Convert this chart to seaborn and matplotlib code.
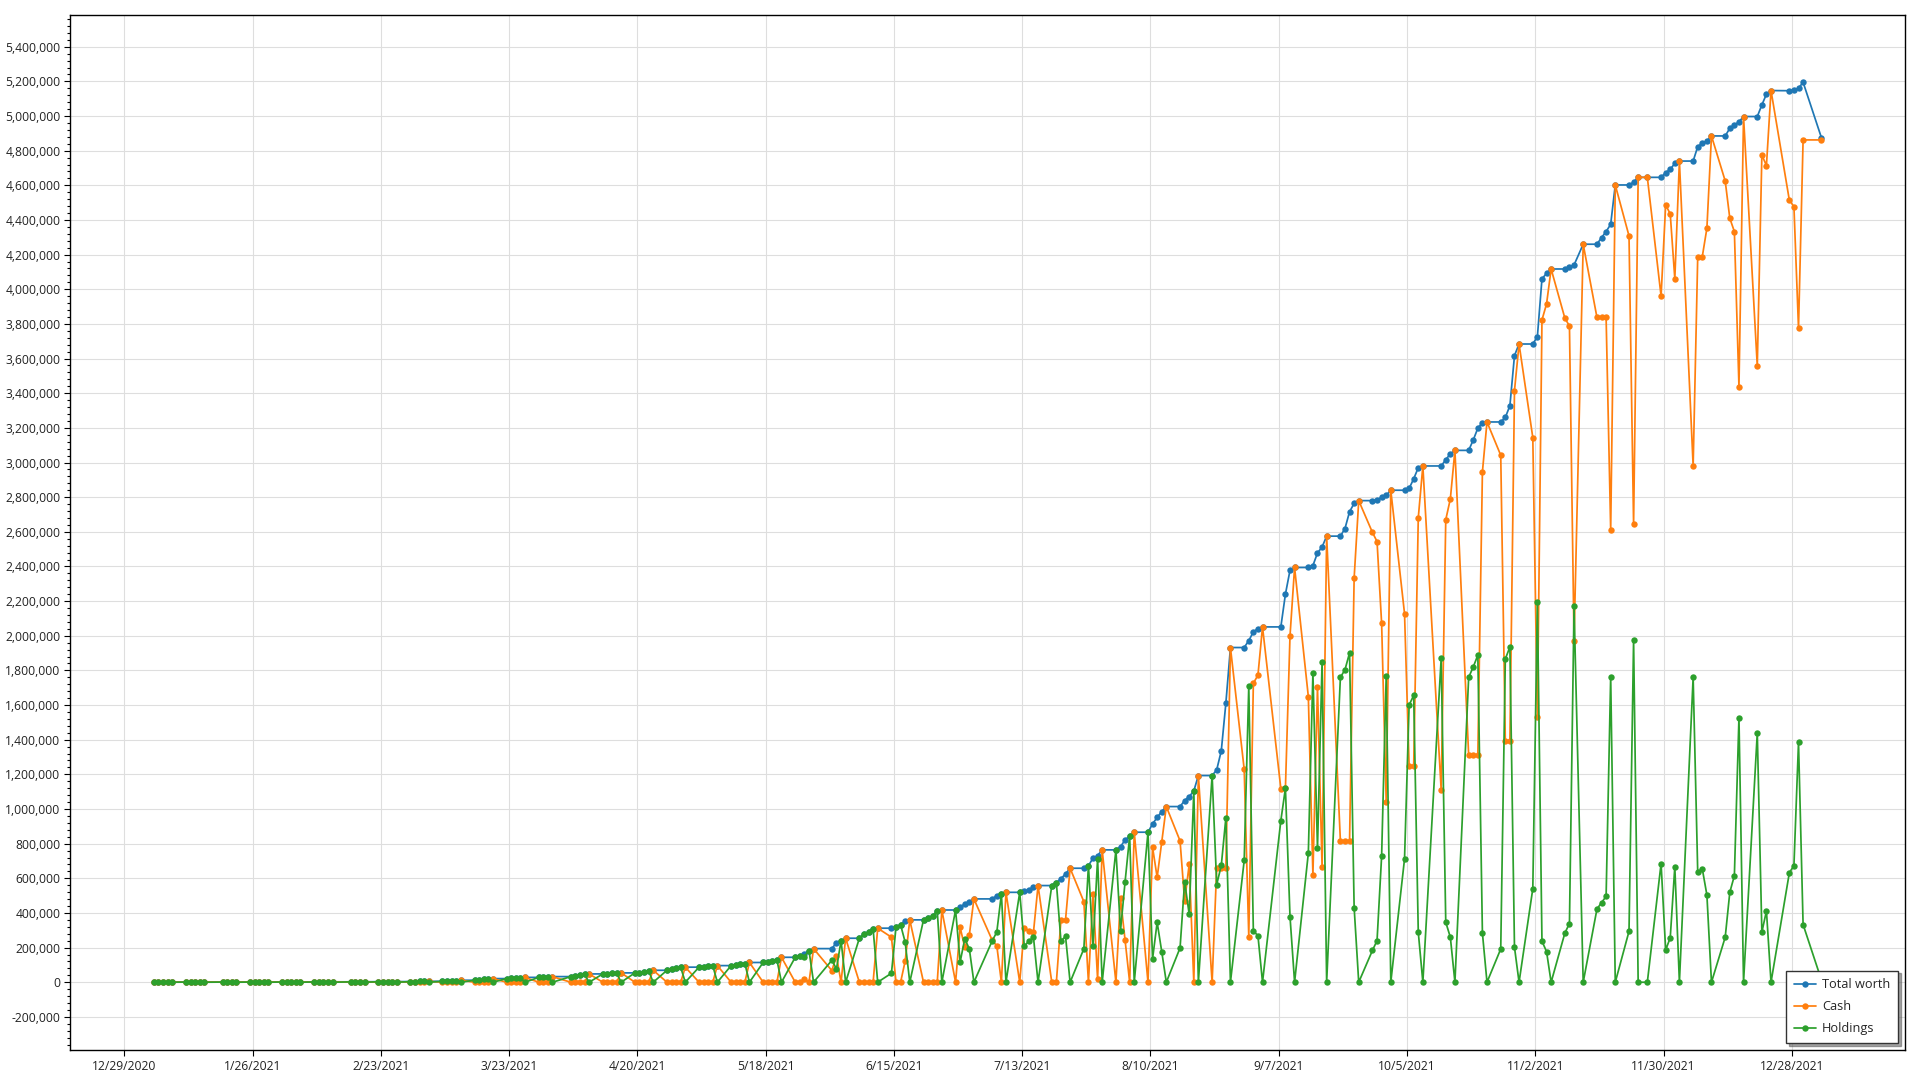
import matplotlib
matplotlib.use("Agg")
import matplotlib.pyplot as plt
from matplotlib.ticker import FuncFormatter, MultipleLocator
import pandas as pd
import seaborn as sns

# days without a data point inside the range (holidays / gaps in the feed)
MISSING_DAYS = ["2021-01-18", "2021-02-15", "2021-04-02", "2021-05-31", "2021-07-05",
                "2021-09-06", "2021-10-11", "2021-11-11", "2021-11-25", "2021-12-24",
                "2021-12-31"]
FIRST_DAY = "2021-01-04"
LAST_DAY = "2022-01-03"
SNAPSHOT_HOUR = 11  # values are logged late in the morning

# values in thousands, one row per trading week
total_worth_k = [
    1.00, 1.02, 1.05, 1.08, 1.10,
    1.10, 1.13, 1.16, 1.20, 1.24,
    1.24, 1.29, 1.34, 1.40,
    1.40, 1.46, 1.52, 1.59, 1.66,
    1.66, 1.74, 1.82, 1.90, 2.00,
    2.00, 2.10, 2.20, 2.30, 2.40,
    2.40, 2.55, 2.70, 2.85,
    2.85, 3.00, 3.20, 3.40, 3.60,
    3.6, 3.9, 4.3, 4.8, 5.4,
    5.4, 6.5, 8.0, 9.5, 11.5,
    11.5, 13.5, 16.0, 18.5, 21.0,
    21, 23, 24.5, 26, 28,
    28, 29.5, 31, 32.5,
    32.5, 37, 42, 46, 48,
    48, 50, 52, 52.5, 54,
    54, 56, 60, 65, 69,
    69, 77, 83, 86, 87,
    87, 90, 92, 95, 96,
    96, 100, 104, 108, 114,
    114, 119, 123, 129, 144,
    144, 152, 165, 183, 194,
    194, 229, 240, 254,
    254, 277, 288, 306, 312,
    312, 318, 331, 354, 360,
    360, 369, 383, 412, 417,
    417, 433, 452, 465, 481,
    481, 500, 510, 519,
    519, 525, 533, 548, 558,
    558, 575, 598, 625, 658,
    658, 673, 716, 731, 764,
    764, 783, 821, 844, 866,
    866, 914, 951, 985, 1014,
    1014, 1049, 1072, 1104, 1193,
    1193, 1226, 1336, 1611, 1932,
    1932, 1972, 2022, 2041, 2051,
    2051, 2240, 2378, 2394,
    2394, 2405, 2478, 2512, 2575,
    2575, 2619, 2716, 2764, 2780,
    2780, 2784, 2800, 2810, 2840,
    2840, 2850, 2906, 2970, 2980,
    2980, 3016, 3050, 3070,
    3070, 3130, 3198, 3230, 3234,
    3234, 3260, 3328, 3617, 3684,
    3684, 3727, 4060, 4092, 4117,
    4117, 4127, 4140, 4260,
    4260, 4298, 4333, 4375, 4602,
    4602, 4618, 4646, 4646,
    4646, 4673, 4692, 4727, 4740,
    4740, 4823, 4843, 4856, 4885,
    4885, 4929, 4948, 4966, 4997,
    4997, 5064, 5126, 5147,
    5146, 5150, 5160, 5195,
    4875,
]

cash_k = [
    0, 0, 0, 0, 1.10,
    0, 0, 0, 0, 1.24,
    0, 0, 0, 1.40,
    0, 0, 0, 0, 1.66,
    0, 0, 0, 0, 2.00,
    0, 0, 0, 0, 2.40,
    0, 0, 0, 2.85,
    0, 0, 0, 0, 3.60,
    0, 0, 0, 0, 5.4,
    0, 0, 0, 0, 11.5,
    0, 0, 0, 0, 21.0,
    0, 0, 0, 0, 28,
    0, 0, 0, 32.5,
    0, 0, 0, 0, 48,
    0, 0, 0, 0, 54,
    0, 0, 0, 0, 69,
    0, 0, 0, 0, 87,
    0, 0, 0, 0, 96,
    0, 0, 0, 0, 114,
    0, 0, 0, 0, 144,
    0, 0, 17, 0, 194,
    67, 152, 0, 254,
    0, 0, 0, 0, 312,
    260, 0, 0, 123, 360,
    0, 0, 0, 0, 417,
    0, 316, 202, 272, 481,
    242, 210, 0, 519,
    0, 315, 296, 288, 558,
    0, 0, 360, 360, 658,
    465, 0, 508, 17, 764,
    0, 485, 241, 0, 866,
    0, 779, 605, 808, 1014,
    816, 468, 681, 0, 1193,
    0, 662, 662, 662, 1932,
    1229, 264, 1726, 1772, 2051,
    1118, 1120, 1999, 2394,
    1649, 620, 1706, 664, 2575,
    815, 815, 815, 2333, 2780,
    2596, 2544, 2071, 1043, 2840,
    2128, 1250, 1250, 2681, 2980,
    1110, 2670, 2790, 3070,
    1310, 1310, 1310, 2946, 3234,
    3042, 1394, 1393, 3415, 3684,
    3144, 1532, 3823, 3915, 4117,
    3833, 3788, 1970, 4260,
    3838, 3838, 3838, 2611, 4602,
    4308, 2643, 4646, 4646,
    3961, 4487, 4435, 4060, 4740,
    2980, 4189, 4189, 4352, 4885,
    4625, 4410, 4333, 3438, 4997,
    3557, 4775, 4714, 5147,
    4514, 4477, 3775, 4862,
    4862,
]

holdings_k = [
    1.00, 1.02, 1.05, 1.08, 0,
    1.10, 1.13, 1.16, 1.20, 0,
    1.24, 1.29, 1.34, 0,
    1.40, 1.46, 1.52, 1.59, 0,
    1.66, 1.74, 1.82, 1.90, 0,
    2.00, 2.10, 2.20, 2.30, 0,
    2.40, 2.55, 2.70, 0,
    2.85, 3.00, 3.20, 3.40, 0,
    3.6, 3.9, 4.3, 4.8, 0,
    5.4, 6.5, 8.0, 9.5, 0,
    11.5, 13.5, 16.0, 18.5, 0,
    21, 23, 24.5, 26, 0,
    28, 29.5, 31, 0,
    32.5, 37, 42, 46, 0,
    48, 50, 52, 52.5, 0,
    54, 56, 60, 65, 0,
    69, 77, 83, 86, 0,
    87, 90, 92, 95, 0,
    96, 100, 104, 108, 0,
    114, 119, 123, 129, 0,
    144, 152, 148, 183, 0,
    127, 77, 240, 0,
    254, 277, 288, 306, 0,
    52, 318, 331, 231, 0,
    360, 369, 383, 412, 0,
    417, 117, 250, 193, 0,
    239, 290, 510, 0,
    519, 210, 237, 260, 0,
    558, 575, 238, 265, 0,
    193, 673, 208, 714, 0,
    764, 298, 580, 844, 0,
    866, 135, 346, 177, 0,
    198, 581, 391, 1104, 0,
    1193, 564, 674, 949, 0,
    703, 1708, 296, 269, 0,
    933, 1120, 379, 0,
    745, 1785, 772, 1848, 0,
    1760, 1804, 1901, 431, 0,
    184, 240, 729, 1767, 0,
    712, 1600, 1656, 289, 0,
    1870, 346, 260, 0,
    1760, 1820, 1888, 284, 0,
    192, 1866, 1935, 202, 0,
    540, 2195, 237, 177, 0,
    284, 339, 2170, 0,
    422, 460, 495, 1764, 0,
    294, 1975, 0, 0,
    685, 186, 257, 667, 0,
    1760, 634, 654, 504, 0,
    260, 519, 615, 1528, 0,
    1440, 289, 412, 0,
    632, 673, 1385, 333,
    13,
]

SERIES = [("Total worth", total_worth_k, "#1f77b4"),
          ("Cash", cash_k, "#ff7f0e"),
          ("Holdings", holdings_k, "#2ca02c")]

dates = pd.bdate_range(FIRST_DAY, LAST_DAY, freq="C", holidays=MISSING_DAYS)
dates = dates + pd.Timedelta(hours=SNAPSHOT_HOUR)

sns.set_theme(style="white")
plt.rcParams["font.family"] = ["Open Sans", "DejaVu Sans"]

fig = plt.figure(figsize=(19.2, 10.8), dpi=100)
ax = fig.add_axes([0.0366, 0.0278, 0.9556, 0.9583])

for name, vals, color in SERIES:
    df = pd.DataFrame({"date": dates, "value": [v * 1000 for v in vals]})
    sns.lineplot(data=df, x="date", y="value", ax=ax, color=color, label=name,
                 marker="o", markersize=4.6, markeredgewidth=0, linewidth=1.25,
                 estimator=None, errorbar=None)

ax.set_xlim(pd.Timestamp("2020-12-17 05:00"), pd.Timestamp("2022-01-21 17:00"))
ax.set_ylim(-391000, 5583000)

ticks = pd.date_range("2020-12-29", periods=14, freq="28D")
ax.set_xticks(ticks)
ax.set_xticklabels([f"{d.month}/{d.day}/{d.year}" for d in ticks])
ax.yaxis.set_major_locator(MultipleLocator(200000))
ax.yaxis.set_minor_locator(MultipleLocator(40000))
ax.yaxis.set_major_formatter(FuncFormatter(lambda v, _: f"{v:,.0f}"))
ax.set_xlabel("")
ax.set_ylabel("")

ax.grid(True, which="major", color="#dedede", linewidth=0.8)
ax.set_axisbelow(True)
for side in ax.spines.values():
    side.set_color("black")
    side.set_linewidth(1.0)
ax.tick_params(axis="both", which="major", direction="out", length=4, width=0.8,
               color="black", labelsize=8.7, labelcolor="#222222", pad=3,
               left=True, bottom=True)
ax.tick_params(axis="y", which="minor", direction="out", length=2, width=0.8,
               color="black", left=True)

leg = ax.legend(loc="lower right", bbox_to_anchor=(0.9962, 0.0068), borderaxespad=0,
                frameon=True, fancybox=False, shadow=True, edgecolor="#333333",
                fontsize=9.2, handlelength=1.7, handletextpad=0.5, labelspacing=0.7,
                borderpad=0.6)
leg.get_frame().set_linewidth(1.0)

fig.savefig("out.png", dpi=100)
